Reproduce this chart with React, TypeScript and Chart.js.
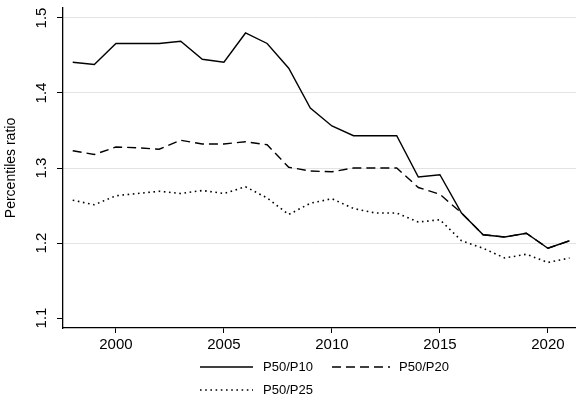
import React, { useEffect, useRef } from "react";
import { Chart, registerables } from "chart.js";

Chart.register(...registerables);

const years = [1998, 1999, 2000, 2001, 2002, 2003, 2004, 2005, 2006, 2007, 2008, 2009, 2010, 2011, 2012, 2013, 2014, 2015, 2016, 2017, 2018, 2019, 2020, 2021];

const p50p10 = [1.441, 1.438, 1.466, 1.466, 1.466, 1.469, 1.445, 1.441, 1.480, 1.466, 1.433, 1.380, 1.356, 1.343, 1.343, 1.343, 1.288, 1.291, 1.240, 1.211, 1.208, 1.213, 1.193, 1.203];
const p50p20 = [1.323, 1.318, 1.328, 1.327, 1.325, 1.337, 1.332, 1.332, 1.335, 1.331, 1.301, 1.296, 1.295, 1.300, 1.300, 1.300, 1.274, 1.265, 1.240, 1.211, 1.208, 1.213, 1.193, 1.203];
const p50p25 = [1.257, 1.251, 1.263, 1.266, 1.269, 1.266, 1.270, 1.266, 1.275, 1.260, 1.238, 1.253, 1.259, 1.246, 1.240, 1.240, 1.228, 1.231, 1.203, 1.193, 1.180, 1.185, 1.174, 1.180];

const seriesLabels = ["P50/P10", "P50/P20", "P50/P25"];
const xTicks = [2000, 2005, 2010, 2015, 2020];
const yTicks = [1.1, 1.2, 1.3, 1.4, 1.5];
const yTitle = "Percentiles ratio";

const FONT = "'Liberation Sans', Arial, Helvetica, sans-serif";

const legendPlugin = {
  id: "stataLegend",
  afterDraw(chart: any) {
    const ctx = chart.ctx;
    const ds = chart.data.datasets;
    const startX = 200;
    const lineLen = 53;
    const textGap = 10;
    const colW = 132;
    const rowY = [367, 390];
    ctx.save();
    ctx.font = `13px ${FONT}`;
    ctx.textBaseline = "middle";
    ctx.textAlign = "left";
    ds.forEach((d: any, i: number) => {
      const col = i % 2;
      const row = Math.floor(i / 2);
      const x = startX + col * colW;
      const y = rowY[row];
      ctx.beginPath();
      ctx.strokeStyle = d.borderColor;
      ctx.lineWidth = d.borderWidth;
      ctx.setLineDash(d.borderDash || []);
      ctx.moveTo(x, y);
      ctx.lineTo(x + lineLen + (col === 1 ? 5 : 0), y);
      ctx.stroke();
      ctx.setLineDash([]);
      ctx.fillStyle = "#000";
      ctx.fillText(d.label, x + lineLen + textGap + (col === 1 ? 4 : 0), y);
    });
    ctx.restore();
  },
};

export default function App() {
  const ref = useRef<HTMLCanvasElement | null>(null);
  useEffect(() => {
    document.body.style.margin = "0";
    const mk = (arr: number[]) => years.map((y, i) => ({ x: y, y: arr[i] }));
    const chart = new Chart(ref.current as HTMLCanvasElement, {
      type: "line",
      data: {
        datasets: [
          { label: seriesLabels[0], data: mk(p50p10), borderColor: "#000", borderWidth: 1.4, borderDash: [], pointRadius: 0, tension: 0, fill: false },
          { label: seriesLabels[1], data: mk(p50p20), borderColor: "#000", borderWidth: 1.4, borderDash: [9, 5], pointRadius: 0, tension: 0, fill: false },
          { label: seriesLabels[2], data: mk(p50p25), borderColor: "#000", borderWidth: 1.6, borderDash: [1.6, 3.6], pointRadius: 0, tension: 0, fill: false },
        ],
      },
      options: {
        responsive: false,
        animation: false,
        layout: { padding: { top: 8, right: 0, bottom: 50, left: 0 } },
        plugins: { legend: { display: false }, tooltip: { enabled: false }, title: { display: false } },
        scales: {
          x: {
            type: "linear",
            min: 1997.55,
            max: 2021.3,
            afterBuildTicks: (s: any) => { s.ticks = xTicks.map((v) => ({ value: v })); },
            afterFit: (s: any) => { s.height = 27; s.paddingLeft = 0; s.paddingRight = 0; },
            grid: { display: true, color: "rgba(0,0,0,0)", drawTicks: true, tickLength: 5, tickColor: "#000", tickWidth: 1 },
            border: { display: true, color: "#000", width: 1.3 },
            ticks: { color: "#000", font: { size: 15, family: FONT }, padding: 3, maxRotation: 0, callback: (v: any) => String(v) },
          },
          y: {
            type: "linear",
            min: 1.0867,
            max: 1.5133,
            afterBuildTicks: (s: any) => { s.ticks = yTicks.map((v) => ({ value: v })); },
            afterFit: (s: any) => { s.width = 63; s.paddingTop = 0; s.paddingBottom = 0; },
            grid: {
              display: true,
              color: (c: any) => (c.tick && Math.abs(c.tick.value - 1.1) < 1e-6 ? "rgba(0,0,0,0)" : "#e3e3e3"),
              lineWidth: 1,
              drawTicks: true,
              tickLength: 6,
              tickColor: "#000",
              tickWidth: 1,
            },
            border: { display: true, color: "#000", width: 1.3 },
            ticks: {
              color: "#000",
              font: { size: 15, family: FONT },
              padding: 5,
              minRotation: 90,
              maxRotation: 90,
              crossAlign: "center",
              callback: (v: any) => Number(v).toFixed(1),
            },
            title: { display: true, text: yTitle, color: "#000", font: { size: 14, family: FONT }, padding: { top: 3, bottom: 0 } },
          },
        },
      },
      plugins: [legendPlugin],
    } as any);
    return () => chart.destroy();
  }, []);
  return (
    <div style={{ position: "fixed", left: 0, top: 0, width: 576, height: 405, background: "#fff" }}>
      <canvas ref={ref} width={576} height={405} style={{ width: 576, height: 405 }} />
    </div>
  );
}
